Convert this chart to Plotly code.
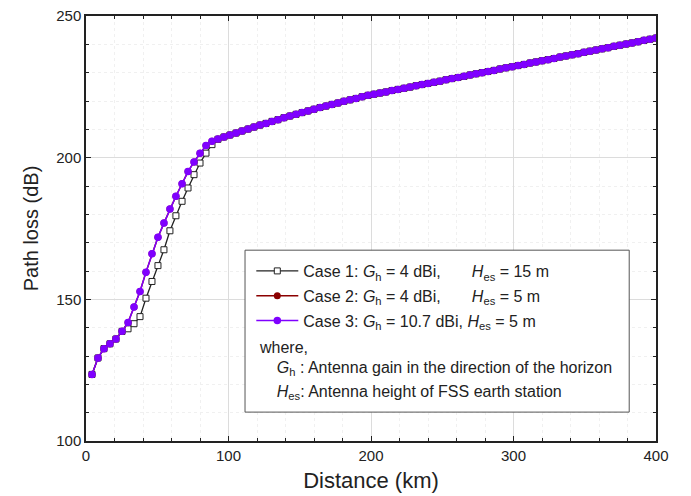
import plotly.graph_objects as go

distance_km = [4.2, 8.4, 12.6, 16.8, 21.0, 25.3, 29.5, 33.7, 37.9, 42.1,
               46.3, 50.5, 54.7, 58.9, 63.1, 67.4, 71.6, 75.8, 80.0, 84.2,
               88.4, 92.6, 96.8, 101.0, 105.3, 109.5, 113.7, 117.9, 122.1, 126.3,
               130.5, 134.7, 138.9, 143.1, 147.4, 151.6, 155.8, 160.0, 164.2, 168.4,
               172.6, 176.8, 181.0, 185.3, 189.5, 193.7, 197.9, 202.1, 206.3, 210.5,
               214.7, 218.9, 223.2, 227.4, 231.6, 235.8, 240.0, 244.2, 248.4, 252.6,
               256.8, 261.1, 265.3, 269.5, 273.7, 277.9, 282.1, 286.3, 290.5, 294.7,
               299.0, 303.2, 307.4, 311.6, 315.8, 320.0, 324.2, 328.4, 332.6, 336.8,
               341.1, 345.3, 349.5, 353.7, 357.9, 362.1, 366.3, 370.5, 374.7, 379.0,
               383.2, 387.4, 391.6, 395.8, 400.0]

case3_loss = [123.5, 129.3, 132.6, 134.3, 136.0, 138.7, 141.8, 147.3, 152.8, 159.6,
              166.1, 171.9, 176.9, 181.9, 186.4, 190.8, 195.1, 198.5, 201.6, 204.3,
              205.8, 206.6, 207.3, 208.0, 208.7, 209.4, 210.1, 210.8, 211.5, 212.1,
              212.8, 213.4, 214.1, 214.7, 215.3, 215.9, 216.5, 217.1, 217.7, 218.2,
              218.8, 219.3, 219.9, 220.4, 220.9, 221.5, 222.0, 222.4, 222.8, 223.2,
              223.7, 224.1, 224.5, 224.9, 225.4, 225.8, 226.2, 226.6, 227.0, 227.5,
              227.9, 228.3, 228.7, 229.2, 229.6, 230.0, 230.4, 230.8, 231.3, 231.7,
              232.1, 232.5, 232.9, 233.4, 233.8, 234.2, 234.6, 235.0, 235.5, 235.9,
              236.3, 236.7, 237.2, 237.6, 238.0, 238.4, 238.8, 239.3, 239.7, 240.1,
              240.5, 240.9, 241.4, 241.8, 242.2]

case2_loss = list(case3_loss)

case1_loss = [123.5, 129.3, 132.6, 134.3, 136.0, 138.7, 139.6, 141.4, 143.9, 150.4,
              156.3, 161.9, 167.5, 174.2, 179.5, 184.6, 189.3, 194.0, 198.1, 201.6,
              204.6, 206.5, 207.3, 208.0, 208.7, 209.4, 210.1, 210.8, 211.5, 212.1,
              212.8, 213.4, 214.1, 214.7, 215.3, 215.9, 216.5, 217.1, 217.7, 218.2,
              218.8, 219.3, 219.9, 220.4, 220.9, 221.5, 222.0, 222.4, 222.8, 223.2,
              223.7, 224.1, 224.5, 224.9, 225.4, 225.8, 226.2, 226.6, 227.0, 227.5,
              227.9, 228.3, 228.7, 229.2, 229.6, 230.0, 230.4, 230.8, 231.3, 231.7,
              232.1, 232.5, 232.9, 233.4, 233.8, 234.2, 234.6, 235.0, 235.5, 235.9,
              236.3, 236.7, 237.2, 237.6, 238.0, 238.4, 238.8, 239.3, 239.7, 240.1,
              240.5, 240.9, 241.4, 241.8, 242.2]

NB = "\u00a0"
case_names = [
    "Case 1: <i>G</i><sub>h</sub> = 4 dBi," + NB * 7 + "<i>H</i><sub>es</sub> = 15 m",
    "Case 2: <i>G</i><sub>h</sub> = 4 dBi," + NB * 7 + "<i>H</i><sub>es</sub> = 5 m",
    "Case 3: <i>G</i><sub>h</sub> = 10.7 dBi, <i>H</i><sub>es</sub> = 5 m",
]
note_lines = [
    "where,",
    NB * 4 + "<i>G</i><sub>h</sub> : Antenna gain in the direction of the horizon",
    NB * 4 + "<i>H</i><sub>es</sub>: Antenna height of FSS earth station",
]

FONT = "Liberation Sans, Arial, sans-serif"
PURPLE = "#7F00FF"
INK = "#222222"

fig = go.Figure()
fig.add_trace(go.Scatter(
    x=distance_km, y=case1_loss, name=case_names[0], mode="lines+markers",
    line=dict(color=INK, width=1.3),
    marker=dict(symbol="square", size=6, color="white",
                line=dict(color=INK, width=1)),
    legendgroup="c1"))
fig.add_trace(go.Scatter(
    x=distance_km, y=case2_loss, name=case_names[1], mode="lines+markers",
    line=dict(color="#8B0000", width=1.5),
    marker=dict(symbol="circle", size=7, color="#8B0000"),
    legendgroup="c2"))
fig.add_trace(go.Scatter(
    x=distance_km, y=case3_loss, name=case_names[2], mode="lines+markers",
    line=dict(color=PURPLE, width=1.5),
    marker=dict(symbol="circle", size=7.5, color=PURPLE),
    legendgroup="c3"))

# legend box (opaque white, above the grid)
fig.add_shape(type="rect", xref="paper", yref="paper",
              x0=0.279, x1=0.953, y0=0.068, y1=0.449,
              line=dict(color="#555555", width=1), fillcolor="white",
              layer="above")

note_y = [0.219, 0.170, 0.113]
for txt, yy in zip(note_lines, note_y):
    fig.add_annotation(text=txt, xref="paper", yref="paper", x=0.300, y=yy,
                       xanchor="left", yanchor="middle", showarrow=False,
                       font=dict(family=FONT, size=16, color=INK))

axis_common = dict(
    showline=True, linecolor=INK, linewidth=1.5, mirror="allticks",
    ticks="inside", ticklen=5, tickwidth=1.2, tickcolor=INK,
    showgrid=True, gridcolor="#dcdcdc", gridwidth=1,
    zeroline=False, automargin=False,
    tickfont=dict(family=FONT, size=15, color=INK),
)

fig.update_xaxes(
    range=[0, 400], dtick=100, tick0=0,
    title=dict(text="Distance (km)", font=dict(family=FONT, size=22, color=INK), standoff=10),
    minor=dict(dtick=20, ticks="inside", ticklen=3, tickcolor=INK,
               showgrid=True, gridcolor="#f0f0f0", griddash="dot"),
    **axis_common)
fig.update_yaxes(
    range=[100, 250], dtick=50, tick0=100,
    title=dict(text="Path loss (dB)", font=dict(family=FONT, size=20, color=INK), standoff=12),
    minor=dict(dtick=10, ticks="inside", ticklen=3, tickcolor=INK,
               showgrid=True, gridcolor="#f0f0f0", griddash="dot"),
    **axis_common)

fig.update_layout(
    width=691, height=496,
    margin=dict(l=86, r=35, t=16, b=55),
    paper_bgcolor="white", plot_bgcolor="white",
    font=dict(family=FONT, size=15, color=INK),
    showlegend=True,
    legend=dict(x=0.290, y=0.440, xanchor="left", yanchor="top",
                bgcolor="rgba(0,0,0,0)", borderwidth=0,
                font=dict(family=FONT, size=16, color=INK),
                tracegroupgap=1, itemwidth=42),
)

fig.write_html("out.html", config={"displayModeBar": False},
               post_script="document.body.style.margin='0';")
